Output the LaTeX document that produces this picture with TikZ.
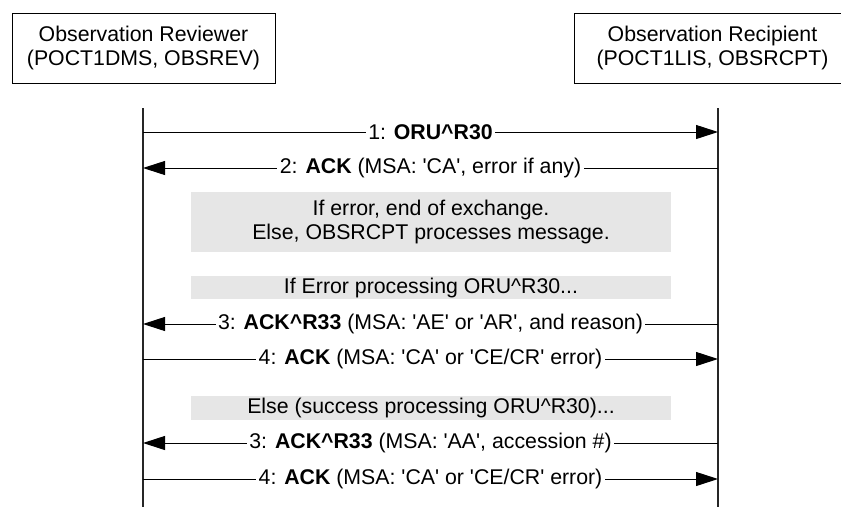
\documentclass[tikz,border=0pt]{standalone}
\usepackage{fontspec}
\setmainfont{Liberation Sans}
\usetikzlibrary{arrows.meta}
\newcommand\sq{\textquotesingle}
\newcommand\crt{\textasciicircum}
\definecolor{notegray}{HTML}{E6E6E6}
\begin{document}
\begin{tikzpicture}[x=1pt,y=-1pt,
  every node/.style={font=\fontsize{21.3pt}{24.5pt}\selectfont},
  actor/.style={draw, line width=1pt, align=center, inner sep=0pt},
  note/.style={fill=notegray, align=center, inner sep=0pt, minimum width=480pt},
  lifeline/.style={line width=1.1pt, black!85},
  msg/.style={line width=1pt, -{Triangle[length=22pt,width=14pt]}},
  rmsg/.style={line width=1pt, {Triangle[length=22pt,width=14pt]}-},
  lbl/.style={fill=white, inner xsep=2.5pt, inner ysep=1pt}]
\useasboundingbox (0,0) rectangle (841,507);
% actors
\node[actor, minimum width=263pt, minimum height=70pt] (rev) at (143.5,48)
  {Observation Reviewer\\(POCT1DMS, OBSREV)};
\node[actor, minimum width=277pt, minimum height=70pt] (rcp) at (712.5,48)
  {Observation Recipient\\(POCT1LIS, OBSRCPT)};
% lifelines
\coordinate (revT) at (143,108);
\coordinate (revB) at (143,507);
\coordinate (rcpT) at (718,108);
\coordinate (rcpB) at (718,507);
\draw[lifeline] (revT) -- (revB);
\draw[lifeline] (rcpT) -- (rcpB);
% notes
\node[note, minimum height=60pt] (n1) at (431,222)
  {If error, end of exchange.\\Else, OBSRCPT processes message.};
\node[note, minimum height=23pt] (n2) at (431,287.5)
  {If Error processing ORU\crt R30...};
\node[note, minimum height=24pt] (n3) at (431,408)
  {Else (success processing ORU\crt R30)...};
% message anchors
\foreach \i/\y in {1/132,2/168,3/324,4/359,5/443,6/479}{
  \coordinate (L\i) at (143,\y);
  \coordinate (R\i) at (718,\y);
}
% messages
\draw[msg] (L1) -- (R1) node[lbl, midway] {1: \textbf{ORU\crt R30}};
\draw[rmsg] (L2) -- (R2) node[lbl, midway] {2: \textbf{ACK} (MSA: \sq CA\sq, error if any)};
\draw[rmsg] (L3) -- (R3) node[lbl, midway] {3: \textbf{ACK\crt R33} (MSA: \sq AE\sq\ or \sq AR\sq, and reason)};
\draw[msg] (L4) -- (R4) node[lbl, midway] {4: \textbf{ACK} (MSA: \sq CA\sq\ or \sq CE/CR\sq\ error)};
\draw[rmsg] (L5) -- (R5) node[lbl, midway] {3: \textbf{ACK\crt R33} (MSA: \sq AA\sq, accession \#)};
\draw[msg] (L6) -- (R6) node[lbl, midway] {4: \textbf{ACK} (MSA: \sq CA\sq\ or \sq CE/CR\sq\ error)};
\end{tikzpicture}
\end{document}
